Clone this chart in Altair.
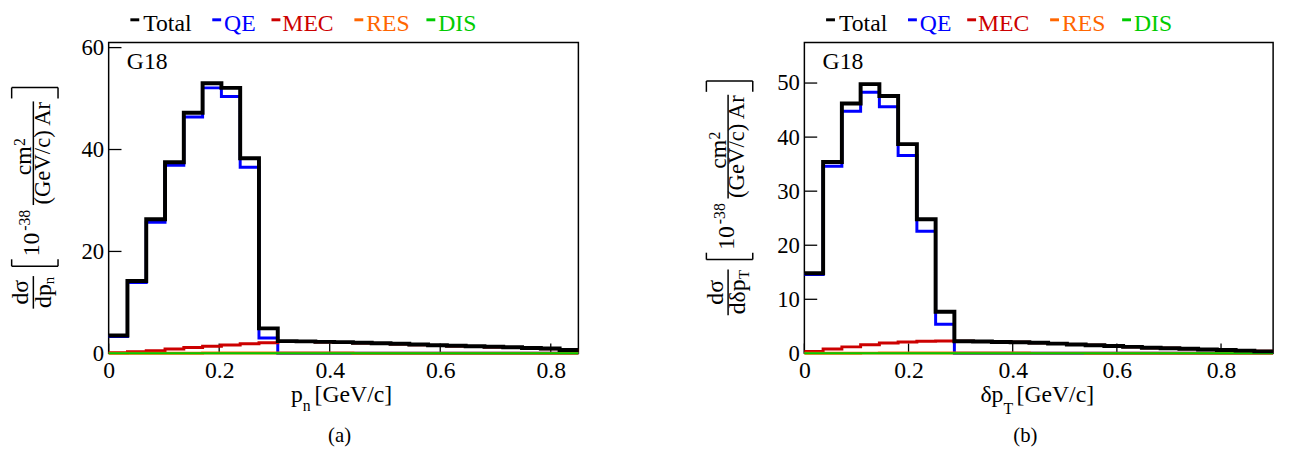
import altair as alt
import pandas as pd

FONT = "Liberation Serif, Times New Roman, serif"

# ---------------- data ----------------
SERIES = ["Total", "QE", "MEC", "RES", "DIS"]
COLORS = ["#000000", "#0000ff", "#cc0000", "#ff6600", "#00cc00"]
WIDTHS = [4, 3, 3, 3, 2]

# left panel: p_n, 25 bins on [0, 0.85]
L_XMAX = 0.85
L_YMAX = 61
L_XTICKS = [0, 0.2, 0.4, 0.6, 0.8]
L_YTICKS = [0, 20, 40, 60]
L_TOTAL = [3.5, 14.2, 26.3, 37.5, 47.2, 53.0, 52.1, 38.3, 4.9, 2.4, 2.35, 2.25, 2.2,
           2.1, 2.0, 1.9, 1.75, 1.6, 1.5, 1.4, 1.3, 1.2, 1.05, 0.95, 0.65]
L_QE = [3.3, 13.9, 25.7, 36.9, 46.4, 52.1, 50.4, 36.5, 3.0, 0, 0, 0, 0,
        0, 0, 0, 0, 0, 0, 0, 0, 0, 0, 0, 0]
L_MEC = [0.1, 0.3, 0.5, 0.85, 1.15, 1.4, 1.65, 1.9, 2.1, 2.35, 2.3, 2.2, 2.15,
         2.05, 1.95, 1.85, 1.7, 1.55, 1.45, 1.35, 1.25, 1.15, 1.0, 0.9, 0.6]
L_RES = [0.0, 0.01, 0.02, 0.03, 0.04, 0.05, 0.05, 0.05, 0.05, 0.05, 0.05, 0.05, 0.05,
         0.04, 0.04, 0.04, 0.03, 0.03, 0.03, 0.03, 0.02, 0.02, 0.02, 0.02, 0.02]
L_DIS = [0.0, 0.0, 0.0, 0.0, 0.0, 0.0, 0.0, 0.0, 0.01, 0.01, 0.01, 0.01, 0.01,
         0.01, 0.01, 0.01, 0.01, 0.01, 0.01, 0.01, 0.01, 0.01, 0.01, 0.01, 0.01]

# right panel: delta p_T, 25 bins on [0, 0.9]
R_XMAX = 0.9
R_YMAX = 57.5
R_XTICKS = [0, 0.2, 0.4, 0.6, 0.8]
R_YTICKS = [0, 10, 20, 30, 40, 50]
R_TOTAL = [14.8, 35.4, 46.2, 49.8, 47.6, 38.7, 24.8, 7.7, 2.25, 2.2, 2.1, 2.05, 1.95,
           1.8, 1.65, 1.5, 1.35, 1.2, 1.05, 0.95, 0.85, 0.72, 0.62, 0.5, 0.37]
R_QE = [14.6, 34.6, 44.8, 48.3, 45.6, 36.6, 22.6, 5.4, 0, 0, 0, 0, 0,
        0, 0, 0, 0, 0, 0, 0, 0, 0, 0, 0, 0]
R_MEC = [0.35, 0.8, 1.2, 1.6, 1.9, 2.1, 2.25, 2.3, 2.25, 2.2, 2.1, 2.05, 1.95,
         1.8, 1.65, 1.5, 1.35, 1.2, 1.05, 0.95, 0.85, 0.72, 0.62, 0.5, 0.37]
R_RES = [0.01, 0.02, 0.03, 0.04, 0.05, 0.05, 0.05, 0.05, 0.05, 0.05, 0.05, 0.05, 0.04,
         0.04, 0.04, 0.03, 0.03, 0.03, 0.03, 0.02, 0.02, 0.02, 0.02, 0.02, 0.02]
R_DIS = [0.0, 0.0, 0.0, 0.0, 0.0, 0.0, 0.0, 0.01, 0.01, 0.01, 0.01, 0.01, 0.01,
         0.01, 0.01, 0.01, 0.01, 0.01, 0.01, 0.01, 0.01, 0.01, 0.01, 0.01, 0.01]

W_L, W_R, H = 476, 475, 315


# ---------------- helpers ----------------
def step_df(vals, xmax):
    n = len(vals)
    w = xmax / n
    xs = [i * w for i in range(n + 1)]
    ys = list(vals) + [vals[-1]]
    return pd.DataFrame({"x": xs, "y": ys})


def txt(s, x, y, size, color="black", angle=0, align="left", baseline="alphabetic"):
    return alt.Chart(pd.DataFrame({"t": [s]})).mark_text(
        font=FONT, fontSize=size, color=color, angle=angle, align=align,
        baseline=baseline).encode(text="t:N", x=alt.value(x), y=alt.value(y))


def seg(x1, y1, x2, y2, color="black", sw=1.5):
    return alt.Chart(pd.DataFrame({"a": [0]})).mark_rule(
        color=color, strokeWidth=sw).encode(
        x=alt.value(x1), x2=alt.value(x2), y=alt.value(y1), y2=alt.value(y2))


def panel(xmax, ymax, xticks, yticks, series, width, ytitle, xtitle, caption):
    xs = alt.Scale(domain=[0, xmax], nice=False, zero=False)
    ys = alt.Scale(domain=[0, ymax], nice=False, zero=False)
    xaxis = alt.Axis(values=xticks, title=None, grid=False, domain=False, ticks=False,
                     labelFont=FONT, labelFontSize=24, labelColor="black",
                     labelPadding=5, labelFlush=False,
                     labelExpr="datum.value == 0 ? '0' : format(datum.value, '.1f')")
    yaxis = alt.Axis(values=yticks, title=None, grid=False, domain=False, ticks=False,
                     labelFont=FONT, labelFontSize=23, labelColor="black",
                     labelPadding=5, labelFlush=False, format="d")
    layers = []
    # tick marks pointing inwards
    layers.append(alt.Chart(pd.DataFrame({"x": xticks})).mark_rule(
        color="black", strokeWidth=1.3).encode(
        x=alt.X("x:Q", scale=xs, axis=xaxis), y=alt.value(H), y2=alt.value(H - 10)))
    layers.append(alt.Chart(pd.DataFrame({"y": yticks})).mark_rule(
        color="black", strokeWidth=1.3).encode(
        y=alt.Y("y:Q", scale=ys, axis=yaxis), x=alt.value(0), x2=alt.value(13)))
    # histograms: components first, total on top
    order = [1, 2, 3, 4, 0]
    for i in order:
        layers.append(alt.Chart(step_df(series[i], xmax)).mark_line(
            interpolate="step-after", color=COLORS[i], strokeWidth=WIDTHS[i]).encode(
            x=alt.X("x:Q", scale=xs, axis=xaxis), y=alt.Y("y:Q", scale=ys, axis=yaxis)))
    # legend above the frame
    dash_x = [22, 105, 165, 249, 322]
    text_x = [35, 117, 176, 261, 334]
    for i, name in enumerate(SERIES):
        layers.append(seg(dash_x[i], -23, dash_x[i] + 9, -23, COLORS[i], 3))
        layers.append(txt(name, text_x[i], -11.5, 24, COLORS[i]))
    layers.append(txt("G18", 18.4, 26.7, 24))
    layers += ytitle + xtitle + caption
    return alt.layer(*layers).properties(width=width, height=H)


def bracket(y_bar, y_end, x1, x2):
    return [seg(x1, y_bar, x2, y_bar), seg(x1, y_bar, x1, y_end), seg(x2, y_bar, x2, y_end)]


# y title of left panel (rotated pieces, relative to the plot origin)
L_YT = [
    txt("dσ", -81.3, 253, 24, angle=270, align="center"),
    seg(-76.3, 236.7, -76.3, 269.7),
    txt("dp", -58.9, 257, 24, angle=270, align="center"),
    txt("n", -54.9, 241.2, 15, angle=270, align="center"),
    txt("10", -70.3, 204.7, 24, angle=270, align="center"),
    txt("-38", -79.3, 180.2, 16, angle=270, align="center"),
    txt("cm", -78.3, 120, 24, angle=270, align="center"),
    txt("2", -84.8, 101, 16, angle=270, align="center"),
    seg(-76.3, 59.7, -76.3, 164.7),
    txt("(GeV/c) Ar", -59.8, 112.2, 23, angle=270, align="center"),
] + bracket(226.7, 219.7, -98.3, -51.3) + bracket(45.7, 56.7, -98.3, -51.3)

# y title of right panel
R_YT = [
    txt("dσ", -82.3, 253.2, 24, angle=270, align="center"),
    seg(-77.3, 230, -77.3, 276.5),
    txt("dδp", -59.9, 257.7, 24, angle=270, align="center"),
    txt("T", -55.9, 235.2, 15, angle=270, align="center"),
    txt("10", -71.3, 198, 24, angle=270, align="center"),
    txt("-38", -80.3, 173.5, 16, angle=270, align="center"),
    txt("cm", -79.3, 113.3, 24, angle=270, align="center"),
    txt("2", -85.8, 94.3, 16, angle=270, align="center"),
    seg(-77.3, 53, -77.3, 158),
    txt("(GeV/c) Ar", -60.8, 105.5, 23, angle=270, align="center"),
] + bracket(220, 213, -99.3, -52.3) + bracket(39, 50, -99.3, -52.3)

L_XT = [txt("p", 184.7, 364.7, 24), txt("n", 196.7, 373.7, 16), txt("[GeV/c]", 208.7, 364.7, 24)]
R_XT = [txt("δp", 178.4, 364.7, 24), txt("T", 201.7, 376.7, 16), txt("[GeV/c]", 215, 364.7, 24)]

L_CAP = [txt("(a)", 234, 405, 21, align="center")]
R_CAP = [txt("(b)", 224, 405, 21, align="center")]

left = panel(L_XMAX, L_YMAX, L_XTICKS, L_YTICKS, [L_TOTAL, L_QE, L_MEC, L_RES, L_DIS],
             W_L, L_YT, L_XT, L_CAP)
right = panel(R_XMAX, R_YMAX, R_XTICKS, R_YTICKS, [R_TOTAL, R_QE, R_MEC, R_RES, R_DIS],
              W_R, R_YT, R_XT, R_CAP)

chart = alt.hconcat(left, right, spacing=117).properties(
    padding={"left": 0, "top": 0, "right": 0, "bottom": 2},
    background="white",
).configure_view(stroke="black", strokeWidth=1.5)

chart.save("out.html", embed_options={"renderer": "svg", "actions": False})
